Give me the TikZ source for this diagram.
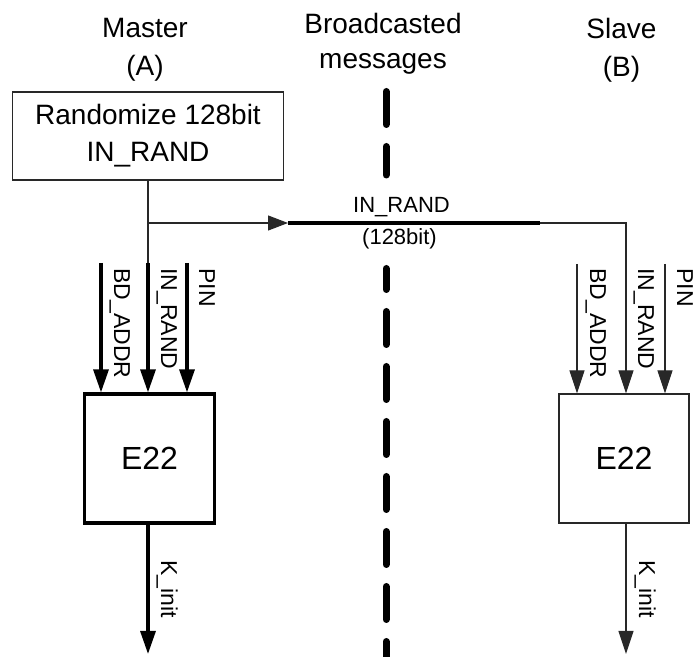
\documentclass[tikz,border=0pt]{standalone}
\usepackage{fontspec}
\setmainfont{Liberation Sans}
\usetikzlibrary{arrows.meta, calc}
\definecolor{wire}{RGB}{40,40,40}

\begin{document}
\begin{tikzpicture}[x=0.5pt, y=-0.5pt,
  head/.style={align=center, anchor=north, inner sep=0pt},
  thinwire/.style={draw=wire, line width=0.55pt},
  thickwire/.style={draw=black, line width=1.6pt},
  tip/.style={-{Triangle[length=11.5pt, width=7.5pt]}},
  vlabel/.style={rotate=-90, anchor=base west, inner sep=0pt, font=\fontsize{11.5}{13}\selectfont},
  hlabel/.style={anchor=base, inner sep=0pt, font=\fontsize{11}{13}\selectfont},
  encbox/.style={draw, minimum width=65pt, minimum height=64.5pt, font=\fontsize{16}{19}\selectfont},
  barrier/.style={line width=3.5pt, line cap=round, dash pattern=on 16.5pt off 11pt}]
\useasboundingbox (0,0) rectangle (697,657);

% column titles
\node[head, font=\fontsize{14}{19}\selectfont] (titleA) at (145,18) {Master\\(A)};
\node[head, font=\fontsize{14}{17.5}\selectfont] (titleM) at (383,13) {Broadcasted\\messages};
\node[head, font=\fontsize{14}{19}\selectfont] (titleB) at (621.5,18) {Slave\\(B)};

\node[draw=wire, line width=0.6pt, minimum width=135.5pt, minimum height=44pt, align=center,
  font=\fontsize{14}{18.5}\selectfont] (rand) at (148,136) {Randomize 128bit\\IN\_RAND};

\node[encbox, line width=1.6pt] (encA) at (149.5,458.5) {E22};
\node[encbox, draw=wire, line width=0.55pt] (encB) at (624,458.5) {E22};

% broadcast border
\coordinate (bar1) at (386,91.5);
\coordinate (bar2) at (386,175);
\coordinate (bar3) at (386,268.5);
\coordinate (bar4) at (386,662);
\draw[barrier] (bar1) -- (bar2);
\draw[barrier, dash phase=6pt] (bar3) -- (bar4);

% IN_RAND to both sides
\coordinate (split) at (148,223);
\coordinate (inA2) at (148,263);
\coordinate (bcTip) at (288,223);
\coordinate (bcEnd) at (540,223);
\coordinate (turnB) at (626,223);
\draw[thinwire] (rand.south) -- (inA2);
\draw[thickwire, tip] (inA2) -- (inA2 |- encA.north);
\draw[thinwire, -{Triangle[length=10pt, width=7.5pt]}] (split) -- (bcTip);
\draw[thickwire] (bcTip) -- (bcEnd);
\draw[thinwire, tip] (bcEnd) -- (turnB) -- (turnB |- encB.north);
\node[hlabel] (bcName) at (401.5,213) {IN\_RAND};
\node[hlabel] (bcSize) at (399.5,245) {(128bit)};

\foreach \n/\x in {1/101, 3/187} {
  \coordinate (inA\n) at (\x,263);
  \draw[thickwire, tip] (inA\n) -- (inA\n |- encA.north);
}
\foreach \n/\x in {1/577, 3/665} {
  \coordinate (inB\n) at (\x,264);
  \draw[thinwire, tip] (inB\n) -- (inB\n |- encB.north);
}
\foreach \n/\x/\t in {1/114/BD\_ADDR, 2/161/IN\_RAND, 3/199/PIN} {
  \node[vlabel] (labA\n) at (\x,268) {\t};
}
\foreach \n/\x/\t in {1/590/BD\_ADDR, 2/638/IN\_RAND, 3/677/PIN} {
  \node[vlabel] (labB\n) at (\x,268) {\t};
}

% key outputs
\coordinate (outA) at (148,654);
\coordinate (outB) at (626,654);
\draw[thickwire, tip] (encA.south -| outA) -- (outA);
\draw[thinwire, tip] (encB.south -| outB) -- (outB);
\node[vlabel] (keyA) at (161,560) {K\_init};
\node[vlabel] (keyB) at (639,560) {K\_init};
\end{tikzpicture}
\end{document}
